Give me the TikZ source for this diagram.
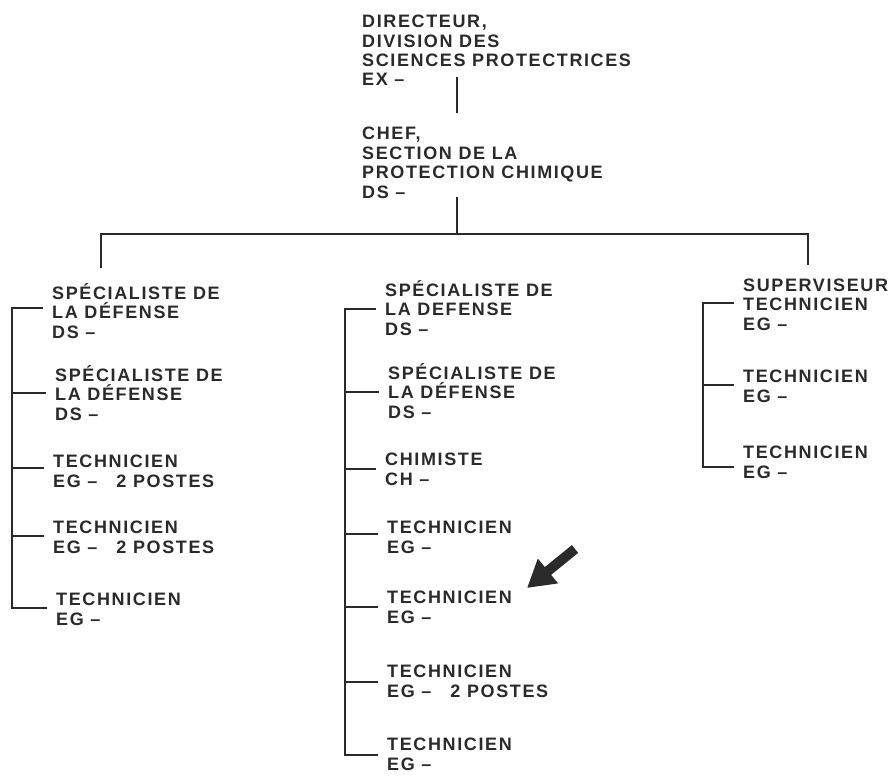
\documentclass[tikz,border=0pt]{standalone}
\usepackage{fontspec}
\newfontfamily\orgfont{Liberation Sans}[LetterSpace=9]
\usetikzlibrary{arrows.meta,calc}
\definecolor{ink}{HTML}{2A2A2A}
\begin{document}
\begin{tikzpicture}[x=1pt,y=-1pt,
  % each post is placed by the baseline of its last line
  post/.style={anchor=base west, inner sep=0pt, align=left, text=ink,
    font=\orgfont\bfseries\fontsize{18}{19.4}\selectfont},
  link/.style={draw=ink, line width=2.2pt},
  pointer/.style={draw=ink, line width=10pt,
    -{Triangle[length=27pt,width=30pt]}},
]
\useasboundingbox[fill=white] (0,0) rectangle (895,776);

% --- head of the chart
\node[post] (dir)  at (362,86)  {DIRECTEUR,\\DIVISION DES\\SCIENCES PROTECTRICES\\EX –};
\node[post] (chef) at (362,198) {CHEF,\\SECTION DE LA\\PROTECTION CHIMIQUE\\DS –};

\coordinate (j1a) at (457,77);
\coordinate (j1b) at (457,113);
\coordinate (j2a) at (457,197);
\coordinate (bus)  at (457,234);
\coordinate (busL) at (101,234);
\coordinate (busR) at (808,234);
\coordinate (dropL) at (101,268);
\coordinate (dropR) at (808,265);
\draw[link] (j1a) -- (j1b);
\draw[link] (j2a) -- (bus);
\draw[link] (dropL) -- (busL) -- (busR) -- (dropR);

% --- left branch
\node[post] (L1) at (52,338) {SPÉCIALISTE DE\\LA DÉFENSE\\DS –};
\node[post] (L2) at (55,420) {SPÉCIALISTE DE\\LA DÉFENSE\\DS –};
\node[post] (L3) at (53,487) {TECHNICIEN\\EG –\hspace{19pt}2 POSTES};
\node[post] (L4) at (53,553) {TECHNICIEN\\EG –\hspace{19pt}2 POSTES};
\node[post] (L5) at (56,625) {TECHNICIEN\\EG –};

\coordinate (Ls1) at (12,308);
\coordinate (Ls2) at (12,393);
\coordinate (Ls3) at (12,468);
\coordinate (Ls4) at (12,536);
\coordinate (Ls5) at (12,608);
\draw[link] ($(Ls1 -| L1.west)+(-9,0)$) -- (Ls1) -- (Ls5) -- ($(Ls5 -| L5.west)+(-9,0)$);
\draw[link] (Ls2) -- ($(Ls2 -| L2.west)+(-9,0)$);
\draw[link] (Ls3) -- ($(Ls3 -| L3.west)+(-9,0)$);
\draw[link] (Ls4) -- ($(Ls4 -| L4.west)+(-9,0)$);

% --- middle branch
\node[post] (M1) at (385,335) {SPÉCIALISTE DE\\LA DEFENSE\\DS –};
\node[post] (M2) at (388,418) {SPÉCIALISTE DE\\LA DÉFENSE\\DS –};
\node[post] (M3) at (385,485) {CHIMISTE\\CH –};
\node[post] (M4) at (387,553) {TECHNICIEN\\EG –};
\node[post] (M5) at (387,623) {TECHNICIEN\\EG –};
\node[post] (M6) at (387,697) {TECHNICIEN\\EG –\hspace{19pt}2 POSTES};
\node[post] (M7) at (387,770) {TECHNICIEN\\EG –};

\coordinate (Ms1) at (345,309);
\coordinate (Ms2) at (345,392);
\coordinate (Ms3) at (345,469);
\coordinate (Ms4) at (345,534);
\coordinate (Ms5) at (345,607);
\coordinate (Ms6) at (345,682);
\coordinate (Ms7) at (345,755);
\draw[link] ($(Ms1 -| M1.west)+(-9,0)$) -- (Ms1) -- (Ms7) -- ($(Ms7 -| M7.west)+(-9,0)$);
\draw[link] (Ms2) -- ($(Ms2 -| M2.west)+(-9,0)$);
\draw[link] (Ms3) -- ($(Ms3 -| M3.west)+(-9,0)$);
\draw[link] (Ms4) -- ($(Ms4 -| M4.west)+(-9,0)$);
\draw[link] (Ms5) -- ($(Ms5 -| M5.west)+(-9,0)$);
\draw[link] (Ms6) -- ($(Ms6 -| M6.west)+(-9,0)$);

% --- right branch
\node[post] (R1) at (743,330) {SUPERVISEUR\\TECHNICIEN\\EG –};
\node[post] (R2) at (743,402) {TECHNICIEN\\EG –};
\node[post] (R3) at (743,478) {TECHNICIEN\\EG –};

\coordinate (Rs1) at (703,303);
\coordinate (Rs2) at (703,385);
\coordinate (Rs3) at (703,467);
\draw[link] ($(Rs1 -| R1.west)+(-9,0)$) -- (Rs1) -- (Rs3) -- ($(Rs3 -| R3.west)+(-9,0)$);
\draw[link] (Rs2) -- ($(Rs2 -| R2.west)+(-9,0)$);

% --- pointer arrow
\coordinate (ptail) at (575,549);
\coordinate (ptip)  at (527,588);
\draw[pointer] (ptail) -- (ptip);
\end{tikzpicture}
\end{document}
